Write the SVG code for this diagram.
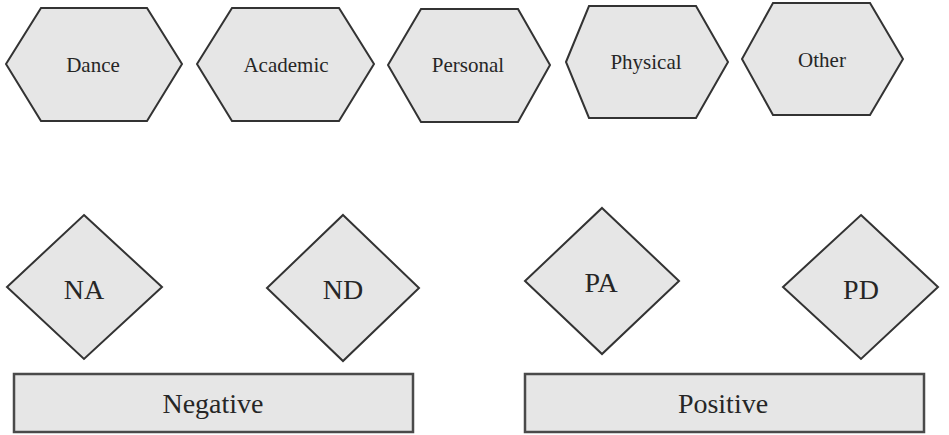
<svg xmlns="http://www.w3.org/2000/svg" width="949" height="435" viewBox="0 0 949 435">
  <style>
    .shape { fill: #e6e6e6; stroke: #333333; stroke-width: 2; stroke-linejoin: miter; }
    .bar { fill: #e6e6e6; stroke: #4a4a4a; stroke-width: 2.5; }
    .lbl { font-family: "Liberation Serif", "Times New Roman", serif; fill: #262626; text-anchor: middle; }
    .sm { font-size: 21px; }
    .lg { font-size: 28px; }
  </style>
  <rect width="949" height="435" fill="#ffffff"/>

  <!-- category hexagons -->
  <g id="dance">
    <polygon class="shape" points="6,64 41,8 147,8 182,64 147,121 41,121"/>
    <text class="lbl sm" x="93" y="72">Dance</text>
  </g>
  <g id="academic">
    <polygon class="shape" points="197,64 232,8 339,8 374,64 339,121 232,121"/>
    <text class="lbl sm" x="286" y="72">Academic</text>
  </g>
  <g id="personal">
    <polygon class="shape" points="388,65 421,9 518,9 550,65 518,122 421,122"/>
    <text class="lbl sm" x="468" y="72">Personal</text>
  </g>
  <g id="physical">
    <polygon class="shape" points="566,62 589,6 696,6 728,62 696,118 589,118"/>
    <text class="lbl sm" x="646" y="69">Physical</text>
  </g>
  <g id="other">
    <polygon class="shape" points="742,59 773,3 870,3 903,59 870,115 773,115"/>
    <text class="lbl sm" x="822" y="67">Other</text>
  </g>

  <!-- affect diamonds -->
  <g id="na">
    <polygon class="shape" points="84,215 162,287 84,359 7,287"/>
    <text class="lbl lg" x="84" y="299">NA</text>
  </g>
  <g id="nd">
    <polygon class="shape" points="343,215 419,288 343,361 267,288"/>
    <text class="lbl lg" x="343" y="299">ND</text>
  </g>
  <g id="pa">
    <polygon class="shape" points="602,208 679,281 602,354 525,281"/>
    <text class="lbl lg" x="601" y="292">PA</text>
  </g>
  <g id="pd">
    <polygon class="shape" points="861,215 938,287 861,359 783,287"/>
    <text class="lbl lg" x="861" y="299">PD</text>
  </g>

  <!-- valence bars -->
  <g id="negative">
    <rect class="bar" x="14" y="374" width="399" height="58"/>
    <text class="lbl lg" x="213" y="413">Negative</text>
  </g>
  <g id="positive">
    <rect class="bar" x="525" y="374" width="399" height="58"/>
    <text class="lbl lg" x="723" y="413">Positive</text>
  </g>

  <g id="connectors"></g>
</svg>
